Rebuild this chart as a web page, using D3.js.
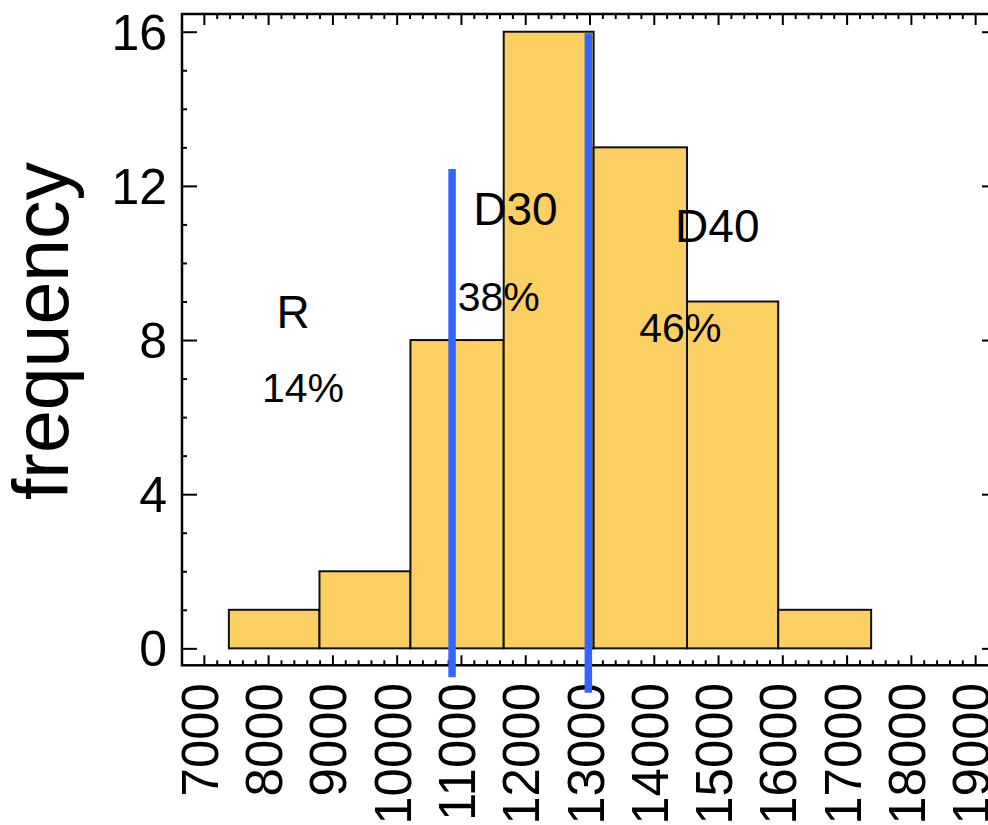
<!DOCTYPE html>
<html>
<head>
<meta charset="utf-8">
<script src="https://cdn.jsdelivr.net/npm/d3@7"></script>
<style>
  body { margin: 0; background: #fff; overflow: hidden; }
  svg { display: block; font-family: "Liberation Sans", Arial, sans-serif; }
</style>
</head>
<body>
<div id="chart"></div>
<script>
// histogram bins (edges) and counts
const binEdges = [7389, 8799, 10214, 11665, 13064, 14517, 15936, 17382];
const counts = [1, 2, 8, 16, 13, 9, 1];

const xTickValues = [7000, 8000, 9000, 10000, 11000, 12000, 13000, 14000, 15000, 16000, 17000, 18000, 19000];
const yTickValues = [0, 4, 8, 12, 16];

// blue cut-off lines
const cutX = [10862, 12982];
const cutBottom = [-0.75, -1.15];
const cutTop = [12.44, 15.96];

// annotation texts
const labelText = ["R", "D30", "D40"];
const labelX = [8387, 11847, 14988];
const labelY = [8.31, 10.98, 10.55];
const pctText = ["14%", "38%", "46%"];
const pctX = [8543, 11587, 14413];
const pctY = [6.40, 8.76, 7.96];

const W = 988, H = 825;

const bins = counts.map((c, i) => ({ x0: binEdges[i], x1: binEdges[i + 1], n: c }));

const svg = d3.select("#chart").append("svg")
  .attr("width", W)
  .attr("height", H);

const x = d3.scaleLinear().domain([6660, 19340]).range([182, 997]);
const y = d3.scaleLinear().domain([-0.44, 16.46]).range([665.3, 14]);

const plotLeft = x.range()[0], plotRight = x.range()[1];
const plotTop = y.range()[1], plotBottom = y.range()[0];

// bars
svg.append("g")
  .selectAll("rect")
  .data(bins)
  .join("rect")
  .attr("x", d => x(d.x0))
  .attr("width", d => x(d.x1) - x(d.x0))
  .attr("y", d => y(d.n))
  .attr("height", d => y(0) - y(d.n))
  .attr("fill", "#fccf62")
  .attr("stroke", "#111")
  .attr("stroke-width", 2);

// frame with ticks pointing inward
const minorX = d3.range(7000, 19001, 200).filter(v => v % 1000 != 0);
const minorY = d3.range(0, 17, 1).filter(v => v % 4 != 0);

const styleAxis = (g) => {
  g.select(".domain").remove();
  g.selectAll(".tick line").attr("stroke", "#000").attr("stroke-width", 2);
  g.selectAll(".tick text").remove();
};

svg.append("g").attr("transform", `translate(0,${plotBottom})`)
  .call(d3.axisBottom(x).tickValues(xTickValues).tickSize(-10)).call(styleAxis);
svg.append("g").attr("transform", `translate(0,${plotBottom})`)
  .call(d3.axisBottom(x).tickValues(minorX).tickSize(-5)).call(styleAxis);
svg.append("g").attr("transform", `translate(0,${plotTop})`)
  .call(d3.axisTop(x).tickValues(xTickValues).tickSize(-11)).call(styleAxis);
svg.append("g").attr("transform", `translate(0,${plotTop})`)
  .call(d3.axisTop(x).tickValues(minorX).tickSize(-5)).call(styleAxis);
svg.append("g").attr("transform", `translate(${plotLeft},0)`)
  .call(d3.axisLeft(y).tickValues(yTickValues).tickSize(-15)).call(styleAxis);
svg.append("g").attr("transform", `translate(${plotLeft},0)`)
  .call(d3.axisLeft(y).tickValues(minorY).tickSize(-5)).call(styleAxis);
svg.append("g").attr("transform", `translate(${plotRight},0)`)
  .call(d3.axisRight(y).tickValues(yTickValues).tickSize(-15)).call(styleAxis);
svg.append("g").attr("transform", `translate(${plotRight},0)`)
  .call(d3.axisRight(y).tickValues(minorY).tickSize(-5)).call(styleAxis);

svg.append("rect")
  .attr("x", plotLeft).attr("y", plotTop)
  .attr("width", plotRight - plotLeft).attr("height", plotBottom - plotTop)
  .attr("fill", "none")
  .attr("stroke", "#000")
  .attr("stroke-width", 2.5);

// tick labels
svg.append("g")
  .selectAll("text")
  .data(xTickValues)
  .join("text")
  .attr("transform", d => `translate(${x(d) - 3},683) rotate(-90)`)
  .attr("y", 17)
  .attr("text-anchor", "end")
  .attr("font-size", 51)
  .text(d => d);

svg.append("g")
  .selectAll("text")
  .data(yTickValues)
  .join("text")
  .attr("x", 167)
  .attr("y", d => y(d))
  .attr("dy", "0.36em")
  .attr("text-anchor", "end")
  .attr("font-size", 50)
  .text(d => d);

svg.append("text")
  .attr("transform", "translate(68,331) rotate(-90)")
  .attr("text-anchor", "middle")
  .attr("font-size", 77)
  .text("frequency");

// blue cut-off lines
svg.append("g")
  .selectAll("line")
  .data(cutX)
  .join("line")
  .attr("x1", d => x(d))
  .attr("x2", d => x(d))
  .attr("y1", (d, i) => y(cutBottom[i]))
  .attr("y2", (d, i) => y(cutTop[i]))
  .attr("stroke", "#3366ff")
  .attr("stroke-width", 7.5);

// annotations
svg.append("g")
  .selectAll("text")
  .data(labelText)
  .join("text")
  .attr("x", (d, i) => x(labelX[i]))
  .attr("y", (d, i) => y(labelY[i]))
  .attr("text-anchor", "middle")
  .attr("font-size", 46)
  .text(d => d);

svg.append("g")
  .selectAll("text")
  .data(pctText)
  .join("text")
  .attr("x", (d, i) => x(pctX[i]))
  .attr("y", (d, i) => y(pctY[i]))
  .attr("text-anchor", "middle")
  .attr("font-size", 41)
  .text(d => d);
</script>
</body>
</html>
